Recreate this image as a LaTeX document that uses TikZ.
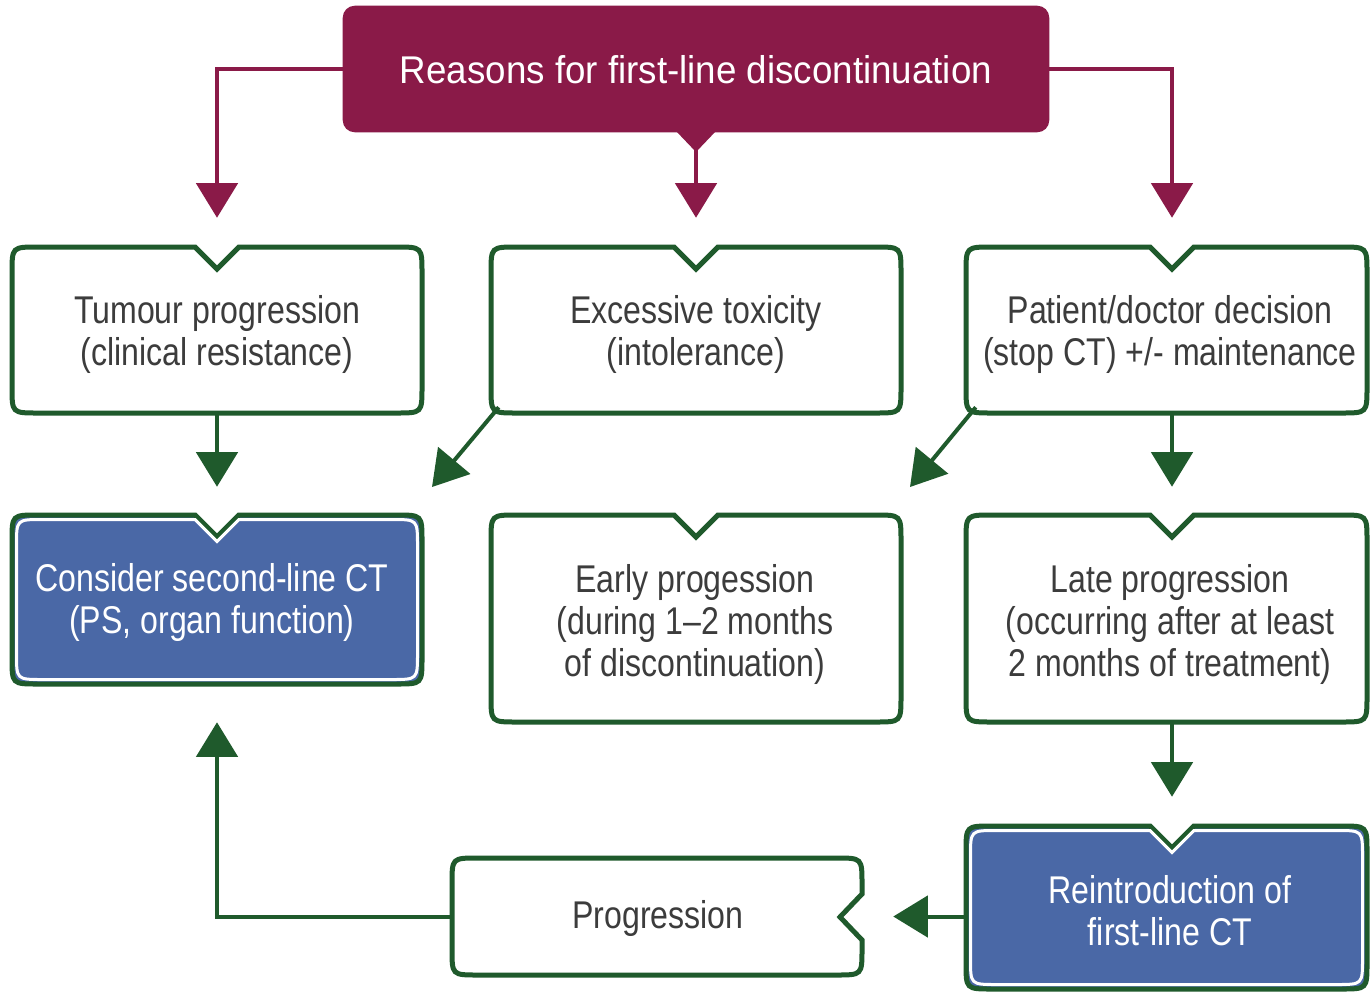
\documentclass[tikz,border=0pt]{standalone}
\usepackage{fontspec}
\setmainfont{Liberation Sans}[FakeStretch=0.83]
\newfontfamily\titlefont{Liberation Sans}[FakeStretch=0.95]
\usetikzlibrary{arrows.meta,calc}
\definecolor{maroonc}{HTML}{8A1A48}
\definecolor{dgreen}{HTML}{1F5A2C}
\definecolor{pblue}{HTML}{4A68A6}
\definecolor{tgray}{HTML}{3C3C3C}
% frame node: name, x1, y1, x2, y2 (px)
\newcommand\frnode[5]{\node[frame, minimum width={(#4-#2)*0.75pt}, minimum height={(#5-#3)*0.75pt}] (#1) at ({(#2+#4)/2},{(#3+#5)/2}) {};}
% notched box outline: style, x1, y1, x2, y2, notch x, inset
\newcommand\notchbox[7]{%
\draw[#1] ({#6+22},{#3+#7}) -- ({#4-#7-26},{#3+#7}) .. controls ({#4-#7},{#3+#7}) .. ({#4-#7},{#3+#7+26})
 -- ({#4-#7},{#5-#7-26}) .. controls ({#4-#7},{#5-#7}) .. ({#4-#7-26},{#5-#7})
 -- ({#2+#7+26},{#5-#7}) .. controls ({#2+#7},{#5-#7}) .. ({#2+#7},{#5-#7-26})
 -- ({#2+#7},{#3+#7+26}) .. controls ({#2+#7},{#3+#7}) .. ({#2+#7+26},{#3+#7})
 -- ({#6-22},{#3+#7}) -- (#6,{#3+#7+22}) -- cycle;}
\begin{document}
\begin{tikzpicture}[x=0.75pt,y=-0.75pt,
 frame/.style={rectangle, inner sep=0pt, draw=none},
 txt/.style={align=center, text=tgray, inner sep=0pt, font=\fontsize{29pt}{31.5pt}\selectfont},
 wtxt/.style={txt, text=white},
 gbox/.style={draw=dgreen, line width=3.75pt, fill=white},
 bbox/.style={draw=dgreen, line width=3.75pt, fill=pblue},
 bring/.style={draw=white, line width=2.25pt},
 garrow/.style={draw=dgreen, line width=3pt, -{Triangle[length=26pt,width=31pt]}},
 marrow/.style={draw=maroonc, line width=3pt, -{Triangle[length=26pt,width=31pt]}}]
\useasboundingbox (0,0) rectangle (1370,993);
\fill[white] (0,0) rectangle (1370,993);

% frames
\frnode{T}{343}{6}{1049}{132}
\frnode{A}{12}{247}{422}{413}
\frnode{B}{491}{247}{901}{413}
\frnode{C}{966}{247}{1367}{413}
\frnode{D}{12}{515}{422}{684}
\frnode{E}{491}{515}{901}{722}
\frnode{F}{966}{515}{1367}{722}
\frnode{G}{966}{826}{1367}{989}
\frnode{H}{452}{858}{862}{975}
\coordinate (rx) at (1172,0);
\coordinate (tipB) at (432,487);
\coordinate (tipC) at (910,487);

% title box
\fill[maroonc, rounded corners=9pt] (T.north west) rectangle (T.south east);
\fill[maroonc] (676,131) -- (696,152) -- (716,131) -- cycle;
\node[wtxt, font=\titlefont\fontsize{29pt}{31.5pt}\selectfont] (Tt) at (696,70) {Reasons for first-line discontinuation};

% boxes
\notchbox{gbox}{12}{247}{422}{413}{217}{0}
\notchbox{gbox}{491}{247}{901}{413}{696}{0}
\notchbox{gbox}{966}{247}{1367}{413}{1172}{0}
\notchbox{bbox}{12}{515}{422}{684}{217}{0}
\notchbox{bring}{12}{515}{422}{684}{217}{4.5}
\notchbox{gbox}{491}{515}{901}{722}{696}{0}
\notchbox{gbox}{966}{515}{1367}{722}{1172}{0}
\notchbox{bbox}{966}{826}{1367}{989}{1172}{0}
\notchbox{bring}{966}{826}{1367}{989}{1172}{4.5}
\draw[gbox] (478,858) -- (836,858) .. controls (862,858) .. (862,884) -- (862,894) -- (840,917) -- (862,940)
 -- (862,949) .. controls (862,975) .. (836,975) -- (478,975) .. controls (452,975) .. (452,949)
 -- (452,884) .. controls (452,858) .. (478,858) -- cycle;

% texts
\node[txt] (At) at (217,334) {Tumour progression\\(clinical resistance)};
\node[txt] (Bt) at (696,334) {Excessive toxicity\\(intolerance)};
\node[txt] (Ct) at (1170,334) {Patient/doctor decision\\(stop CT) +/- maintenance};
\node[wtxt] (Dt) at (212,602) {Consider second-line CT\\(PS, organ function)};
\node[txt] (Et) at (695,624) {Early progession\\(during 1--2 months\\of discontinuation)};
\node[txt] (Ft) at (1170,624) {Late progression\\(occurring after at least\\2 months of treatment)};
\node[wtxt] (Gt) at (1170,911) {Reintroduction of\\first-line CT};
\node[txt] (Ht) at (658,918) {Progression};

% maroon connectors
\draw[marrow, shorten >=21.75pt] (T.west) -| (A.north);
\draw[marrow, shorten >=21.75pt] (T.east) -| (C.north -| rx);
\draw[marrow, shorten >=21.75pt] ($(T.south)+(0,18)$) -- (B.north);

% green connectors
\draw[garrow, shorten >=21pt] (A.south) -- (D.north);
\draw[garrow] ($(B.south west)+(8,-6)$) -- (tipB);
\draw[garrow] ($(C.south west)+(10,-6)$) -- (tipC);
\draw[garrow, shorten >=21pt] (C.south -| rx) -- (F.north -| rx);
\draw[garrow, shorten >=21.75pt] (F.south -| rx) -- (G.north -| rx);
\draw[garrow, shorten >=23.25pt] (G.west |- H.east) -- (H.east);
\draw[garrow, shorten >=28.5pt] (H.west) -| (D.south);
\end{tikzpicture}
\end{document}
